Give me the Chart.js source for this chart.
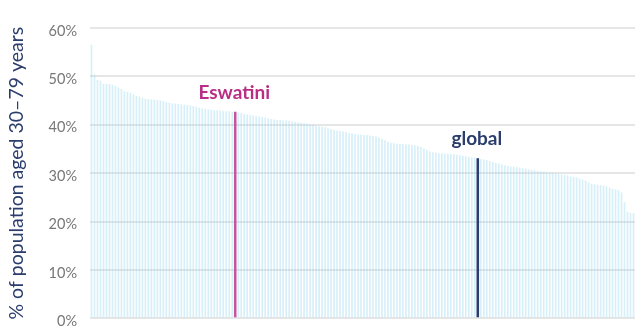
<!DOCTYPE html>
<html>
<head>
<meta charset="utf-8">
<script src="https://cdn.jsdelivr.net/npm/chart.js@4"></script>
<style>
  html, body { margin: 0; padding: 0; background: #fff; overflow: hidden; }
  canvas { display: block; }
</style>
</head>
<body>
<canvas id="chart" width="635" height="340"></canvas>
<script>
// share of population aged 30-79 (%), one bar per country, sorted
var shares = [
  56.5, 50.4, 49.3, 49.1, 48.5, 48.4, 48.4, 48.2, 48.0, 47.7,
  47.4, 47.0, 46.8, 46.6, 46.3, 46.0, 45.8, 45.6, 45.4, 45.3,
  45.2, 45.2, 45.1, 45.0, 44.9, 44.7, 44.5, 44.4, 44.4, 44.3,
  44.2, 44.2, 44.1, 44.0, 43.9, 43.7, 43.5, 43.4, 43.3, 43.2,
  43.1, 43.0, 43.0, 42.9, 42.9, 42.8, 42.8, 42.7, 42.7, 42.5,
  42.4, 42.2, 42.1, 42.0, 41.9, 41.8, 41.7, 41.6, 41.5, 41.3,
  41.2, 41.1, 41.0, 41.0, 40.9, 40.9, 40.8, 40.7, 40.6, 40.5,
  40.4, 40.3, 40.2, 40.1, 40.0, 39.8, 39.7, 39.6, 39.5, 39.3,
  39.1, 38.9, 38.8, 38.7, 38.6, 38.5, 38.3, 38.2, 38.1, 38.0,
  38.0, 37.9, 37.9, 37.8, 37.7, 37.6, 37.4, 37.1, 36.8, 36.5,
  36.3, 36.2, 36.1, 36.0, 36.0, 35.9, 35.9, 35.8, 35.7, 35.6,
  35.4, 35.1, 34.8, 34.5, 34.3, 34.2, 34.1, 34.1, 34.0, 34.0,
  33.9, 33.9, 33.8, 33.7, 33.6, 33.5, 33.4, 33.3, 33.2, 33.1,
  32.9, 32.8, 32.7, 32.5, 32.3, 32.1, 32.0, 31.8, 31.6, 31.5,
  31.4, 31.3, 31.2, 31.1, 31.0, 30.9, 30.8, 30.7, 30.6, 30.5,
  30.4, 30.3, 30.2, 30.1, 30.0, 29.9, 29.8, 29.7, 29.6, 29.5,
  29.3, 29.2, 29.1, 28.9, 28.7, 28.5, 28.1, 27.8, 27.7, 27.6,
  27.5, 27.4, 27.3, 27.0, 26.8, 26.6, 26.5, 26.0, 24.0, 22.0,
  21.8, 21.7
];

// highlighted bars: name and position in the sorted list
var highlightNames = ['Eswatini', 'global'];
var highlightIndex = [48, 129];
var highlightColors = ['#c4559c', '#2b3d6d'];
var labelColors = ['#b92d84', '#2b3d6d'];

var yTicks = [0, 10, 20, 30, 40, 50, 60];

var categories = shares.map(function (v, i) {
  var k = highlightIndex.indexOf(i);
  return k >= 0 ? highlightNames[k] : 'country ' + (i + 1);
});

var highlightData = shares.map(function (v, i) {
  return highlightIndex.indexOf(i) >= 0 ? v : null;
});
var highlightBg = shares.map(function (v, i) {
  var k = highlightIndex.indexOf(i);
  return k >= 0 ? highlightColors[k] : 'rgba(0,0,0,0)';
});

// names above the highlighted bars
var barLabels = {
  id: 'barLabels',
  afterDatasetsDraw: function (chart) {
    var ctx = chart.ctx;
    var meta = chart.getDatasetMeta(1);
    ctx.save();
    ctx.font = 'bold 19px Lato, "Open Sans", sans-serif';
    ctx.textAlign = 'center';
    ctx.textBaseline = 'alphabetic';
    highlightIndex.forEach(function (idx, k) {
      var el = meta.data[idx];
      ctx.fillStyle = labelColors[k];
      ctx.fillText(highlightNames[k], el.x - 1, el.y - 13);
    });
    ctx.restore();
  }
};

new Chart(document.getElementById('chart'), {
  type: 'bar',
  data: {
    labels: categories,
    datasets: [{
      data: shares,
      backgroundColor: 'rgba(140, 212, 235, 0.36)',
      barPercentage: 0.55,
      categoryPercentage: 1,
      grouped: false,
      order: 2
    }, {
      data: highlightData,
      backgroundColor: highlightBg,
      barPercentage: 0.85,
      categoryPercentage: 1,
      grouped: false,
      order: 1
    }]
  },
  options: {
    responsive: false,
    animation: false,
    layout: { padding: { top: 28, right: 0, bottom: 17, left: 0 } },
    plugins: {
      legend: { display: false },
      tooltip: { enabled: false }
    },
    scales: {
      x: { display: false },
      y: {
        min: 0,
        max: 60,
        afterFit: function (s) { s.width = 90; },
        afterBuildTicks: function (s) {
          s.ticks = yTicks.map(function (v) { return { value: v }; });
        },
        border: { display: false },
        grid: { color: '#e6e6e6', lineWidth: 2, drawTicks: false },
        ticks: {
          color: '#777777',
          padding: 13,
          labelOffset: 3,
          font: { family: 'Lato, "Open Sans", sans-serif', size: 14.5 },
          callback: function (v) { return v + '%'; }
        },
        title: {
          display: true,
          text: '% of population aged 30–79 years',
          color: '#2b3d6d',
          padding: { top: 5, bottom: 0 },
          font: { family: 'Lato, "Open Sans", sans-serif', size: 19.5 }
        }
      }
    }
  },
  plugins: [barLabels]
});
</script>
</body>
</html>
